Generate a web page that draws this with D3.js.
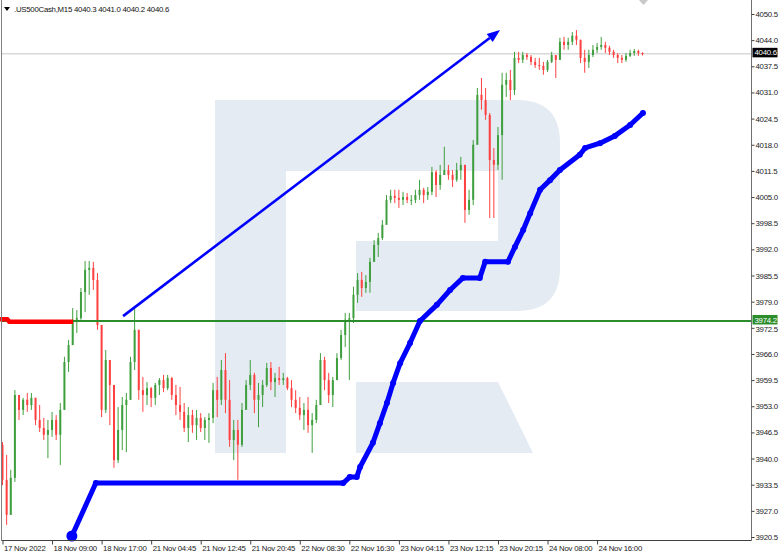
<!DOCTYPE html>
<html><head><meta charset="utf-8">
<script src="https://cdn.jsdelivr.net/npm/d3@7"></script>
<style>
html,body{margin:0;padding:0;background:#fff;}
svg{display:block;font-family:"Liberation Sans",Arial,sans-serif;}
</style></head><body>
<svg id="chart" width="782" height="554"></svg>
<script>
// ---- data ----
const symbolTitle = ".US500Cash,M15  4040.3 4041.0 4040.2 4040.6";
const xTickLabels = ["17 Nov 2022","18 Nov 09:00","18 Nov 17:00","21 Nov 04:45","21 Nov 12:45","21 Nov 20:45","22 Nov 08:30","22 Nov 16:30","23 Nov 04:15","23 Nov 12:15","23 Nov 20:15","24 Nov 08:00","24 Nov 16:00"];
const xTickSlots = [0,12,24,36,48,60,72,84,96,108,120,132,144];
const yTickValues = [4050.5,4044.0,4037.5,4031.0,4024.5,4018.0,4011.5,4005.0,3998.5,3992.0,3985.5,3979.0,3972.5,3966.0,3959.5,3953.0,3946.5,3940.0,3933.5,3927.0,3920.5];
const firstOpen = 3943.4;
const highs = [3944.1,3940.9,3937.2,3957.0,3955.8,3955.1,3956.3,3956.3,3954.6,3953.3,3950.1,3949.6,3951.6,3950.8,3953.8,3965.3,3969.5,3977.4,3976.9,3982.4,
3989.1,3989.1,3988.9,3986.1,3972.7,3967.0,3964.5,3954.6,3952.8,3955.3,3956.3,3965.3,3977.4,3968.7,3960.3,3959.0,3957.8,3958.8,3960.0,3960.8,
3960.8,3960.3,3958.3,3957.8,3953.8,3952.8,3952.1,3952.1,3951.3,3950.3,3951.3,3958.8,3960.3,3964.5,3966.2,3959.5,3949.6,3949.6,3953.8,3959.5,
3964.5,3961.3,3958.8,3959.5,3963.8,3964.0,3961.3,3962.8,3961.3,3960.3,3959.5,3957.0,3955.3,3953.8,3955.3,3951.3,3954.6,3966.2,3965.3,3961.3,
3960.3,3966.2,3972.0,3976.2,3976.2,3982.7,3986.1,3986.4,3985.6,3989.9,3994.3,3996.1,3999.3,4005.5,4006.8,4006.8,4006.8,4006.3,4006.0,4005.5,
4006.8,4009.3,4007.3,4007.5,4012.5,4011.7,4013.0,4017.5,4013.0,4011.7,4013.5,4015.0,4013.0,4006.8,4019.2,4032.1,4034.6,4032.1,4025.9,4017.2,
4022.4,4035.9,4035.9,4036.6,4041.1,4041.1,4041.1,4040.8,4040.3,4039.6,4039.6,4038.6,4039.1,4041.1,4040.3,4044.6,4044.8,4044.6,4046.0,4046.5,
4044.1,4041.6,4041.6,4042.8,4043.3,4044.8,4043.6,4042.6,4041.6,4040.8,4040.3,4040.8,4041.6,4041.8,4041.6,4041.0];
const lows = [3933.4,3923.5,3926.7,3934.2,3949.6,3950.8,3951.6,3952.1,3948.3,3946.6,3944.6,3940.1,3945.4,3944.6,3938.4,3953.3,3961.5,3968.2,3971.2,3974.5,
3976.4,3980.7,3981.9,3972.0,3950.3,3951.3,3948.3,3937.7,3938.9,3942.1,3941.6,3954.6,3962.0,3954.6,3951.6,3953.3,3952.8,3953.3,3955.8,3956.5,
3957.0,3954.6,3950.8,3949.6,3946.6,3944.1,3946.4,3944.6,3946.6,3944.6,3943.9,3948.8,3950.3,3953.3,3951.3,3942.9,3939.6,3934.7,3942.9,3952.1,
3957.0,3951.3,3947.8,3952.8,3957.8,3957.0,3955.3,3958.3,3958.3,3957.0,3952.8,3951.3,3949.6,3947.1,3946.4,3941.4,3948.8,3957.0,3957.0,3953.8,
3952.8,3961.3,3964.5,3967.7,3959.5,3973.7,3978.7,3980.2,3981.2,3981.2,3988.9,3990.1,3994.3,3998.6,4003.5,4003.5,4002.3,4003.0,4003.5,4003.0,
4003.5,4004.3,4003.5,4004.3,4005.5,4005.0,4006.8,4010.5,4009.3,4007.5,4008.8,4009.3,3998.6,4000.6,4003.0,4018.0,4026.7,4024.2,3999.8,3999.8,
4011.7,4009.3,4029.9,4029.1,4030.4,4038.3,4038.3,4039.1,4037.8,4037.1,4036.6,4035.4,4036.1,4038.3,4034.6,4039.6,4041.6,4041.6,4042.8,4042.8,
4038.3,4035.9,4037.1,4039.8,4040.8,4041.6,4040.8,4040.3,4039.6,4038.3,4038.3,4038.6,4039.8,4040.1,4040.1,4040.2];
const closes = [3934.7,3926.0,3935.2,3955.8,3952.1,3954.6,3953.3,3955.1,3949.6,3947.6,3945.9,3947.1,3949.6,3945.9,3952.1,3964.0,3968.2,3974.5,3974.9,3981.4,
3986.9,3987.4,3984.4,3973.2,3952.1,3964.5,3958.3,3939.6,3947.1,3953.3,3954.6,3964.0,3972.0,3957.0,3955.8,3957.5,3955.1,3958.3,3959.5,3957.5,
3960.0,3955.8,3953.3,3951.6,3947.6,3950.8,3948.3,3950.1,3947.6,3949.6,3950.1,3957.0,3954.6,3962.0,3954.6,3944.6,3947.1,3943.4,3952.1,3958.3,
3960.8,3954.6,3955.8,3958.3,3962.5,3959.0,3960.0,3959.5,3960.0,3957.5,3954.6,3952.6,3950.8,3952.1,3948.3,3949.6,3953.3,3964.5,3959.5,3955.8,
3959.5,3965.0,3970.7,3974.5,3974.9,3980.7,3984.4,3982.4,3983.9,3988.9,3993.1,3994.8,3998.1,4004.3,4005.3,4004.8,4004.3,4005.0,4004.3,4004.3,
4005.5,4006.8,4005.5,4006.3,4011.2,4008.0,4010.5,4011.7,4010.5,4009.3,4011.7,4013.0,4001.8,4004.3,4018.0,4030.4,4029.1,4025.4,4014.2,4013.0,
4020.4,4032.9,4034.1,4031.6,4039.6,4039.1,4040.3,4039.8,4038.6,4037.8,4037.6,4036.6,4038.6,4040.3,4039.1,4043.6,4042.8,4043.6,4045.1,4044.1,
4039.6,4038.6,4040.3,4041.6,4042.3,4042.8,4042.1,4041.1,4040.3,4039.6,4039.1,4040.1,4040.8,4041.3,4040.8,4040.6];
// blue dotted indicator (slot, price)
const indSlots = [16.8,22.6,82.5,84.1,85.8,86.6,89.7,91.4,93.1,94.6,96.3,98.7,101.1,105.2,108.4,111.5,115.6,116.9,122.4,124.1,126.1,127.8,130.2,132.6,135.0,139.8,141.1,144.7,148.3,152.0,155.1];
const indValues = [3920.75,3933.9,3933.9,3935.4,3935.4,3937.9,3943.9,3948.8,3953.8,3958.8,3963.7,3968.7,3974.2,3978.2,3981.9,3984.9,3984.9,3988.9,3988.9,3992.6,3996.8,4001.0,4006.8,4009.2,4011.7,4015.5,4017.2,4018.4,4020.2,4022.9,4025.9];
// red indicator segment on the left
const redSlots = [-0.6,1.2,1.6,17.1];
const redValues = [3974.6,3974.6,3974.0,3974.0];
// levels
const levelLine = 3974.2;
const bidLine = 4040.6;
// trend arrow (slot, price)
const arrowSlots = [29.2,120.5];
const arrowValues = [3975.4,4046.5];

// ---- drawing ----
const FONT = "Liberation Sans, Arial, sans-serif";
const FS = "7.8px", LS = "-0.25px";
const plotL = 1.5, plotR = 751.5, plotB = 540.5;
const svg = d3.select("#chart");
const x = d3.scaleLinear().domain([0,155]).range([2.5,642.5]);
const y = d3.scaleLinear().domain([3920.5,4050.5]).range([537,14]);

// watermark
const wm = svg.append("g").attr("fill","#e5ebf3");
wm.append("path").attr("d","M215,100 H517 Q560,100 560,143 V268 Q560,311 517,311 H356 V241 H498 V171 H286 V453 H215 Z");
wm.append("path").attr("d","M356,382 H498 L533,453 H356 Z");

// bid line
svg.append("line").attr("x1",plotL).attr("x2",plotR).attr("y1",y(bidLine)).attr("y2",y(bidLine))
  .attr("stroke","#d8d8d8").attr("stroke-width",1.5);

// candles
const cg = svg.append("g");
closes.forEach((c,i)=>{
  const o = i===0 ? firstOpen : closes[i-1];
  const hi = Math.max(highs[i],o,c), lo = Math.min(lows[i],o,c);
  const bull = c>=o;
  const col = bull ? "#3f9f3f" : "#ff4040";
  const cx = x(i);
  cg.append("line").attr("x1",cx).attr("x2",cx).attr("y1",y(hi)).attr("y2",y(lo))
    .attr("stroke",col).attr("stroke-width",1);
  const yt = y(Math.max(o,c)), yb = y(Math.min(o,c));
  cg.append("rect").attr("x",cx-1).attr("width",2).attr("y",yt).attr("height",Math.max(1,yb-yt))
    .attr("fill",col);
});

// horizontal level
svg.append("line").attr("x1",plotL).attr("x2",plotR).attr("y1",y(levelLine)).attr("y2",y(levelLine))
  .attr("stroke","#2a8c2a").attr("stroke-width",2);

// red indicator
const lineGen = d3.line().x(d=>x(d[0])).y(d=>y(d[1]));
svg.append("path").attr("d",lineGen(redSlots.map((s,i)=>[s,redValues[i]])))
  .attr("fill","none").attr("stroke","#ff0000").attr("stroke-width",4.5).attr("stroke-linejoin","round");

// blue indicator
const indPts = indSlots.map((s,i)=>[s,indValues[i]]);
svg.append("path").attr("d",lineGen(indPts)).attr("fill","none").attr("stroke","#0000ff")
  .attr("stroke-width",5).attr("stroke-linejoin","round").attr("stroke-linecap","round");
svg.selectAll("circle.ind").data(indPts).enter().append("circle").attr("class","ind")
  .attr("cx",d=>x(d[0])).attr("cy",d=>y(d[1])).attr("r",3).attr("fill","#0000ff");
svg.append("circle").attr("cx",x(indSlots[0])).attr("cy",y(indValues[0])).attr("r",5.5).attr("fill","#0000ff");

// arrow
const ax1 = x(arrowSlots[0]), ay1 = y(arrowValues[0]), ax2 = x(arrowSlots[1]), ay2 = y(arrowValues[1]);
const ang = Math.atan2(ay2-ay1, ax2-ax1);
const hl = 13, hw = 5;
const bx = ax2 - hl*Math.cos(ang), by = ay2 - hl*Math.sin(ang);
svg.append("line").attr("x1",ax1).attr("y1",ay1).attr("x2",bx).attr("y2",by)
  .attr("stroke","#0000ff").attr("stroke-width",2.6);
svg.append("path").attr("d",`M${ax2},${ay2} L${bx - hw*Math.sin(ang)},${by + hw*Math.cos(ang)} L${bx + hw*Math.sin(ang)},${by - hw*Math.cos(ang)} Z`)
  .attr("fill","#0000ff");

// frame
svg.append("line").attr("x1",plotL).attr("x2",plotL).attr("y1",0).attr("y2",plotB).attr("stroke","#808080").attr("stroke-width",1);
svg.append("line").attr("x1",plotR).attr("x2",plotR).attr("y1",0).attr("y2",plotB).attr("stroke","#707070").attr("stroke-width",1);
svg.append("line").attr("x1",plotL).attr("x2",plotR).attr("y1",plotB).attr("y2",plotB).attr("stroke","#404040").attr("stroke-width",1);

// shift marker at top
svg.append("path").attr("d","M639,0 H648 L643.5,5 Z").attr("fill","#c8c8c8");

// right axis
const yAxis = d3.axisRight(y).tickValues(yTickValues).tickSize(3).tickFormat(d3.format(".1f"));
const ya = svg.append("g").attr("transform",`translate(${plotR},0)`).call(yAxis);
ya.select(".domain").remove();
ya.selectAll("line").attr("stroke","#404040");
ya.selectAll("text").attr("x",4).attr("font-size",FS).attr("letter-spacing",LS).attr("fill","#222").attr("font-family",FONT);
// nudge the label that sits just under the level tag
ya.selectAll(".tick").filter(d=>d===3972.5).select("text").attr("dy","0.5em");

// bottom axis
const xAxis = d3.axisBottom(x).tickValues(xTickSlots).tickSize(4).tickFormat((d,i)=>xTickLabels[i]);
const xa = svg.append("g").attr("transform",`translate(0,${plotB})`).call(xAxis);
xa.select(".domain").remove();
xa.selectAll("line").attr("stroke","#404040");
xa.selectAll("text").attr("text-anchor","start").attr("x",1).attr("y",5).attr("font-size",FS).attr("letter-spacing",LS)
  .attr("fill","#222").attr("font-family",FONT);

// price labels
function tag(v, bg){
  const g = svg.append("g");
  g.append("rect").attr("x",plotR+1).attr("y",y(v)-6).attr("width",25).attr("height",9.5).attr("fill",bg);
  g.append("text").attr("x",plotR+3).attr("y",y(v)+1.6).attr("font-size",FS).attr("letter-spacing",LS).attr("fill","#fff")
    .attr("font-family",FONT).text(d3.format(".1f")(v));
}
tag(levelLine,"#2a8c2a");
tag(bidLine,"#000");

// title
svg.append("path").attr("d","M4,7 H10 L7,11 Z").attr("fill","#000");
svg.append("text").attr("x",14).attr("y",12).attr("font-size",FS).attr("letter-spacing",LS).attr("fill","#111")
  .attr("font-family",FONT).text(symbolTitle);
</script>
</body></html>
